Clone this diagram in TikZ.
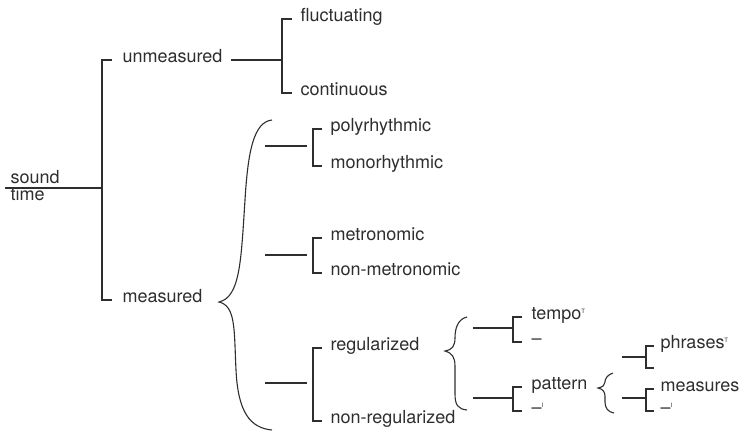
\documentclass[tikz,border=0pt]{standalone}
\usepackage{fontspec}
\setmainfont{TeX Gyre Heros}
\newcommand\smallsup[1]{\textsuperscript{\fontsize{6}{6}\selectfont #1}}

\begin{document}
\begin{tikzpicture}[x=1pt,y=-1pt,line width=1.1pt,color=black!82,
  lbl/.style={anchor=mid west,inner sep=0pt,font=\fontsize{18}{20}\selectfont},
  lblb/.style={anchor=base west,inner sep=0pt,font=\fontsize{18}{20}\selectfont}]
\useasboundingbox (0,0) rectangle (748,432);
\node[lblb] (sd) at (10,183) {sound};
\node[lblb] (tm) at (10,200) {time};
\node[lbl] (un) at (122,60) {unmeasured};
\node[lbl] (fl) at (300,19) {fluctuating};
\node[lbl] (co) at (300,93) {continuous};
\node[lbl] (me) at (122,300) {measured};
\node[lbl] (po) at (330,129) {polyrhythmic};
\node[lbl] (mo) at (330,166) {monorhythmic};
\node[lbl] (mt) at (330,238) {metronomic};
\node[lbl] (nm) at (330,273) {non-metronomic};
\node[lbl] (rg) at (330,348) {regularized};
\node[lbl] (nr) at (330,421) {non-regularized};
\node[lbl] (te) at (531,317) {tempo\smallsup{T}};
\node[lbl] (b1) at (531,342) {–};
\node[lbl] (pa) at (531,387) {pattern};
\node[lbl] (b2) at (531,411) {–\smallsup{I}};
\node[lbl] (ph) at (660,346) {phrases\smallsup{T}};
\node[lbl] (ms) at (660,389) {measures};
\node[lbl] (b4) at (660,411) {–\smallsup{I}};
\coordinate (st0) at (5,188);
\coordinate (st1) at (102,188);
\coordinate (k0) at (282,60);
\coordinate (k1) at (313,146);
\coordinate (k2) at (313,255);
\coordinate (k3) at (313,383);
\coordinate (k4) at (513,328);
\coordinate (k5) at (513,398);
\coordinate (k6) at (646,357);
\coordinate (k7) at (646,398);
\coordinate (e1) at (654,368);
\draw (st0) -- (st1);
\draw ([xshift=-10pt]un.mid west) -- ++(-10,0) |- ([xshift=-10pt]me.mid west);
\draw ([xshift=8pt]un.mid east) -- (k0);
\draw ([xshift=-8pt]fl.mid west) -- ++(-10,0) |- ([xshift=-8pt]co.mid west);
\draw (272,120) .. controls (254,122) and (248,150) .. (245,200) .. controls (241,262) and (240,297) .. (219,302) .. controls (236,306) and (234,330) .. (236,370) .. controls (238,412) and (250,428) .. (272,430);
\draw ([xshift=-48pt]k1) -- ([xshift=-6pt]k1);
\draw ([xshift=-8pt]po.mid west) -- ++(-9,0) |- ([xshift=-8pt]mo.mid west);
\draw ([xshift=-48pt]k2) -- ([xshift=-6pt]k2);
\draw ([xshift=-8pt]mt.mid west) -- ++(-9,0) |- ([xshift=-8pt]nm.mid west);
\draw ([xshift=-48pt]k3) -- ([xshift=-6pt]k3);
\draw ([xshift=-8pt]rg.mid west) -- ++(-9,0) |- ([xshift=-8pt]nr.mid west);
\draw (467,317) .. controls (458,319) and (455,328) .. (455,338) .. controls (455,346) and (452,350) .. (445,351) .. controls (452,353) and (455,357) .. (455,366) -- (455,394) .. controls (455,405) and (458,409) .. (467,410);
\draw ([xshift=-40pt]k4) -- (k4);
\draw ([xshift=-9pt]te.mid west) -- ++(-9,0) |- ([xshift=-9pt]b1.mid west);
\draw ([xshift=-40pt]k5) -- (k5);
\draw ([xshift=-9pt]pa.mid west) -- ++(-9,0) |- ([xshift=-9pt]b2.mid west);
\draw (613,373) .. controls (607,375) and (605,379) .. (605,382) .. controls (605,385) and (603,387) .. (598,388) .. controls (603,389) and (605,392) .. (605,396) -- (605,402) .. controls (605,408) and (608,412) .. (614,413);
\draw ([xshift=-24pt]k6) -- (k6);
\draw ([xshift=-6pt]ph.mid west) -- ++(-8,0) |- (e1);
\draw ([xshift=-24pt]k7) -- (k7);
\draw ([xshift=-6pt]ms.mid west) -- ++(-8,0) |- ([xshift=-6pt]b4.mid west);
\end{tikzpicture}
\end{document}
